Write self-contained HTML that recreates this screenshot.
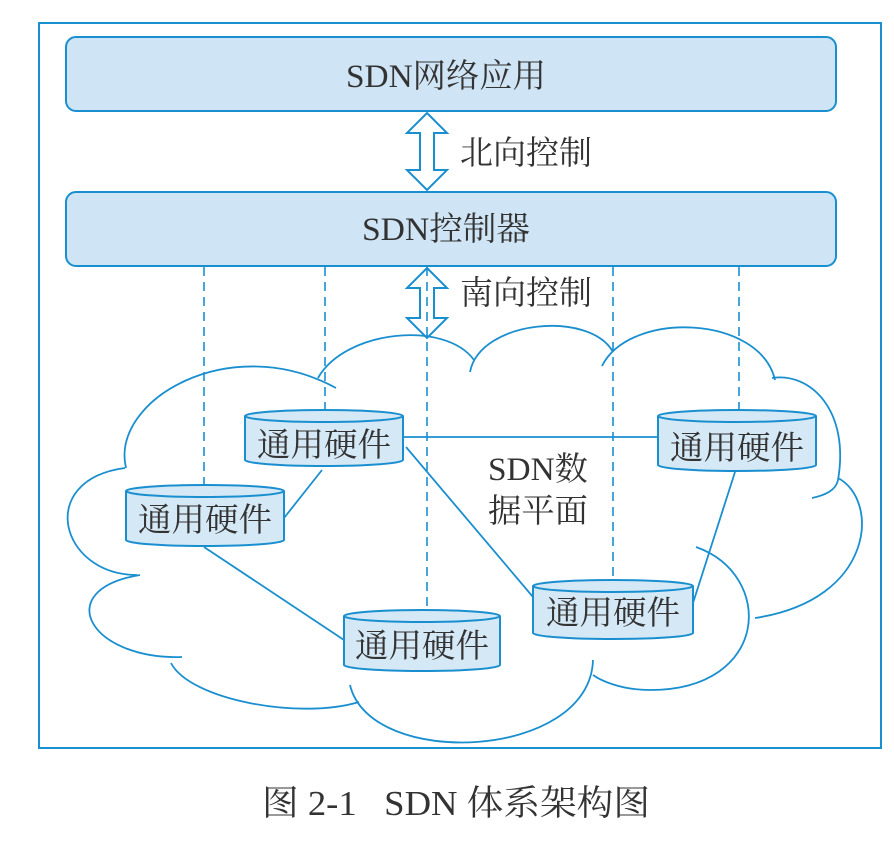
<!DOCTYPE html>
<html><head><meta charset="utf-8"><style>
html,body{margin:0;padding:0;background:#fff;}
svg{display:block;}
text{font-family:"Liberation Serif","Noto Serif CJK SC",serif;fill:#333;}
</style></head><body>
<svg width="894" height="842" viewBox="0 0 894 842" xmlns="http://www.w3.org/2000/svg">
<rect x="39" y="23" width="842" height="725" fill="none" stroke="#1a8fd0" stroke-width="2"/>
<rect x="66" y="37" width="770" height="74" rx="10" fill="#cfe4f4" stroke="#1a8fd0" stroke-width="2"/>
<text x="446" y="87" font-size="33" text-anchor="middle" textLength="200" lengthAdjust="spacingAndGlyphs">SDN网络应用</text>
<rect x="66" y="192" width="770" height="74" rx="10" fill="#cfe4f4" stroke="#1a8fd0" stroke-width="2"/>
<text x="446" y="240" font-size="33" text-anchor="middle" textLength="168" lengthAdjust="spacingAndGlyphs">SDN控制器</text>
<polygon points="427,113 447,133 434,133 434,170 447,170 427,190 407,170 420,170 420,133 407,133" fill="#fff" stroke="#1a8fd0" stroke-width="2"/>
<text x="460" y="164" font-size="33" textLength="132" lengthAdjust="spacingAndGlyphs">北向控制</text>
<polygon points="427,268 447,288 434,288 434,318 447,318 427,338 407,318 420,318 420,288 407,288" fill="#fff" stroke="#1a8fd0" stroke-width="2"/>
<text x="460" y="304" font-size="33" textLength="132" lengthAdjust="spacingAndGlyphs">南向控制</text>
<g stroke="#1a8fd0" stroke-width="1.6" stroke-dasharray="9,6" fill="none">
<line x1="204" y1="267" x2="204" y2="487"/>
<line x1="325" y1="267" x2="325" y2="412"/>
<line x1="427" y1="267" x2="427" y2="612"/>
<line x1="613" y1="267" x2="613" y2="582"/>
<line x1="739" y1="267" x2="739" y2="412"/>
</g>
<g stroke="#1a8fd0" stroke-width="1.8" fill="none">
<path d="M126,468 C110,400 230,330 336,388"/>
<path d="M318,378 C345,330 445,320 474,360"/>
<path d="M470,372 C480,320 590,310 613,352"/>
<path d="M602,366 C630,310 760,315 775,380"/>
<path d="M772,378 C810,372 850,410 838,480 C836,490 826,495 812,498"/>
<path d="M838,478 C880,500 875,600 755,618"/>
<path d="M696,547 C775,575 770,690 650,690 C620,690 600,680 593,675"/>
<path d="M593,660 C590,760 370,770 350,685"/>
<path d="M359,702 C300,720 190,700 171,663"/>
<path d="M182,657 C90,660 50,590 140,575"/>
<path d="M137,575 C60,575 35,480 125,468"/>
<line x1="403" y1="437" x2="658" y2="437"/>
<line x1="406" y1="447" x2="533" y2="597"/>
<line x1="322" y1="470" x2="284" y2="518"/>
<line x1="204" y1="547" x2="344" y2="640"/>
<line x1="735" y1="472" x2="693" y2="603"/>
</g>
<g stroke="#1a8fd0" stroke-width="2" fill="#d5e8f5">
<path d="M245,416 L245,460 A79,6 0 0 0 403,460 L403,416 A79,6 0 0 0 245,416 Z"/><path d="M245,416 A79,6 0 0 0 403,416" fill="none"/>
<path d="M126,491 L126,540 A79,6 0 0 0 284,540 L284,491 A79,6 0 0 0 126,491 Z"/><path d="M126,491 A79,6 0 0 0 284,491" fill="none"/>
<path d="M658,416 L658,465 A79,6 0 0 0 816,465 L816,416 A79,6 0 0 0 658,416 Z"/><path d="M658,416 A79,6 0 0 0 816,416" fill="none"/>
<path d="M533,586 L533,633 A80,6 0 0 0 693,633 L693,586 A80,6 0 0 0 533,586 Z"/><path d="M533,586 A80,6 0 0 0 693,586" fill="none"/>
<path d="M344,616 L344,665 A78,6 0 0 0 500,665 L500,616 A78,6 0 0 0 344,616 Z"/><path d="M344,616 A78,6 0 0 0 500,616" fill="none"/>
</g>
<g font-size="33" text-anchor="middle">
<text x="324" y="456" textLength="134" lengthAdjust="spacingAndGlyphs">通用硬件</text>
<text x="205" y="531" textLength="134" lengthAdjust="spacingAndGlyphs">通用硬件</text>
<text x="737" y="459" textLength="134" lengthAdjust="spacingAndGlyphs">通用硬件</text>
<text x="613" y="624" textLength="134" lengthAdjust="spacingAndGlyphs">通用硬件</text>
<text x="422" y="657" textLength="134" lengthAdjust="spacingAndGlyphs">通用硬件</text>
</g>
<text x="488" y="480" font-size="33" textLength="100" lengthAdjust="spacingAndGlyphs">SDN数</text>
<text x="488" y="522" font-size="33" textLength="100" lengthAdjust="spacingAndGlyphs">据平面</text>
<text x="456" y="815" font-size="35" text-anchor="middle" xml:space="preserve" textLength="388" lengthAdjust="spacingAndGlyphs">图 2-1   SDN 体系架构图</text>
</svg>
</body></html>
